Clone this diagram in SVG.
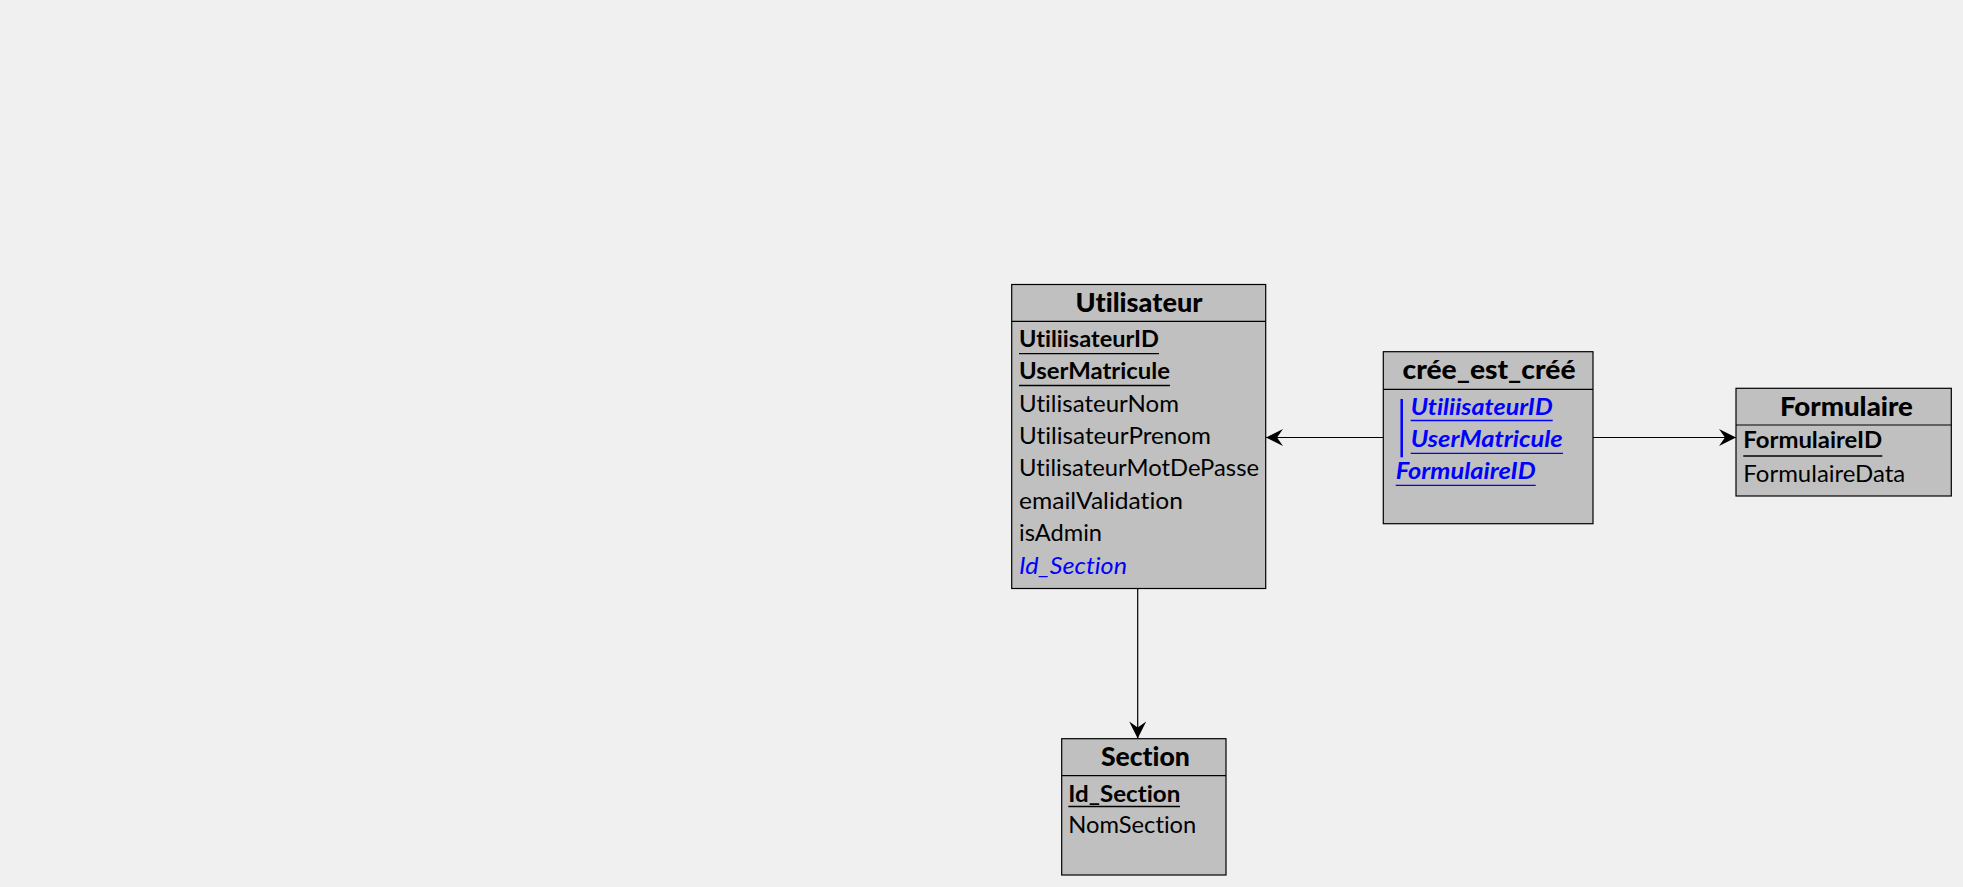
<svg xmlns="http://www.w3.org/2000/svg" width="1963" height="887" viewBox="0 0 1963 887">
  <style>
    .box { fill: #c0c0c0; stroke: #000; stroke-width: 1.2; }
    .sep { stroke: #000; stroke-width: 1.2; }
    .title { font-family: Lato, "Liberation Sans", sans-serif; font-weight: 900; font-size: 26.5px; fill: #000; text-anchor: middle; font-variant-ligatures: none; }
    .attr { font-family: Lato, "Liberation Sans", sans-serif; font-size: 22.5px; fill: #000; font-variant-ligatures: none; }
    .pk { font-weight: bold; }
    .fk { fill: #0000ff; font-style: italic; }
    .ul { stroke: #000; stroke-width: 1.3; }
    .ulfk { stroke: #0000ff; stroke-width: 1.3; }
    .link { stroke: #000; stroke-width: 1.2; fill: none; marker-end: url(#arrow); }
  </style>
  <defs>
    <marker id="arrow" markerUnits="userSpaceOnUse" markerWidth="20" markerHeight="20" viewBox="-18 -10 20 20" refX="0" refY="0" orient="auto">
      <path d="M0,0 L-17,-8.5 L-11,0 L-17,8.5 Z" fill="#000"/>
    </marker>
  </defs>
  <rect width="1963" height="887" fill="#f0f0f0"/>

  <g id="connectors">
    <line class="link" x1="1383" y1="437.5" x2="1266" y2="437.5"/>
    <line class="link" x1="1593" y1="437.5" x2="1736" y2="437.5"/>
    <line class="link" x1="1137.7" y1="588.5" x2="1137.7" y2="738.5"/>
  </g>

  <g id="utilisateur">
    <rect class="box" x="1011.7" y="284.5" width="254" height="304"/>
    <line class="sep" x1="1011.7" y1="321.3" x2="1265.7" y2="321.3"/>
    <text class="title" x="1139" y="311.5" textLength="127" lengthAdjust="spacingAndGlyphs">Utilisateur</text>
    <text class="attr pk" x="1019" y="346.7" textLength="140" lengthAdjust="spacingAndGlyphs">UtiliisateurID</text>
    <line class="ul" x1="1019" y1="353.7" x2="1159" y2="353.7"/>
    <text class="attr pk" x="1019" y="379.1" textLength="151" lengthAdjust="spacingAndGlyphs">UserMatricule</text>
    <line class="ul" x1="1019" y1="385.5" x2="1170" y2="385.5"/>
    <text class="attr" x="1019" y="411.5" textLength="160" lengthAdjust="spacingAndGlyphs">UtilisateurNom</text>
    <text class="attr" x="1019" y="443.9" textLength="192" lengthAdjust="spacingAndGlyphs">UtilisateurPrenom</text>
    <text class="attr" x="1019" y="476.3" textLength="240" lengthAdjust="spacingAndGlyphs">UtilisateurMotDePasse</text>
    <text class="attr" x="1019" y="508.7" textLength="164" lengthAdjust="spacingAndGlyphs">emailValidation</text>
    <text class="attr" x="1019" y="541.1" textLength="83" lengthAdjust="spacingAndGlyphs">isAdmin</text>
    <text class="attr fk" x="1019" y="573.5" textLength="108" lengthAdjust="spacingAndGlyphs">Id_Section</text>
  </g>

  <g id="cree_est_cree">
    <rect class="box" x="1383.3" y="351.7" width="209.7" height="172"/>
    <line class="sep" x1="1383.3" y1="389.3" x2="1593" y2="389.3"/>
    <text class="title" x="1489" y="379.3" textLength="173" lengthAdjust="spacingAndGlyphs">crée_est_créé</text>
    <line x1="1401.7" y1="399" x2="1401.7" y2="457.3" stroke="#0000ff" stroke-width="2.5"/>
    <text class="attr pk fk" x="1410.7" y="415" textLength="142" lengthAdjust="spacingAndGlyphs">UtiliisateurID</text>
    <line class="ulfk" x1="1410.7" y1="420.5" x2="1552.7" y2="420.5"/>
    <text class="attr pk fk" x="1410.7" y="446.7" textLength="152" lengthAdjust="spacingAndGlyphs">UserMatricule</text>
    <line class="ulfk" x1="1410.7" y1="453.3" x2="1563" y2="453.3"/>
    <text class="attr pk fk" x="1395.7" y="479.3" textLength="140" lengthAdjust="spacingAndGlyphs">FormulaireID</text>
    <line class="ulfk" x1="1395.7" y1="485.3" x2="1535.7" y2="485.3"/>
  </g>

  <g id="formulaire">
    <rect class="box" x="1736" y="388.3" width="215.3" height="107.7"/>
    <line class="sep" x1="1736" y1="425" x2="1951.3" y2="425"/>
    <text class="title" x="1846.4" y="416" textLength="133" lengthAdjust="spacingAndGlyphs">Formulaire</text>
    <text class="attr pk" x="1743.3" y="448.3" textLength="139" lengthAdjust="spacingAndGlyphs">FormulaireID</text>
    <line class="ul" x1="1743.3" y1="456" x2="1882.3" y2="456"/>
    <text class="attr" x="1743.3" y="481.7" textLength="162" lengthAdjust="spacingAndGlyphs">FormulaireData</text>
  </g>

  <g id="section">
    <rect class="box" x="1061.7" y="738.7" width="164.3" height="136.3"/>
    <line class="sep" x1="1061.7" y1="775.7" x2="1226" y2="775.7"/>
    <text class="title" x="1145.4" y="766" textLength="89" lengthAdjust="spacingAndGlyphs">Section</text>
    <text class="attr pk" x="1068.3" y="801.7" textLength="112" lengthAdjust="spacingAndGlyphs">Id_Section</text>
    <line class="ul" x1="1068.3" y1="806.5" x2="1180" y2="806.5"/>
    <text class="attr" x="1068.3" y="833.3" textLength="128" lengthAdjust="spacingAndGlyphs">NomSection</text>
  </g>
</svg>
